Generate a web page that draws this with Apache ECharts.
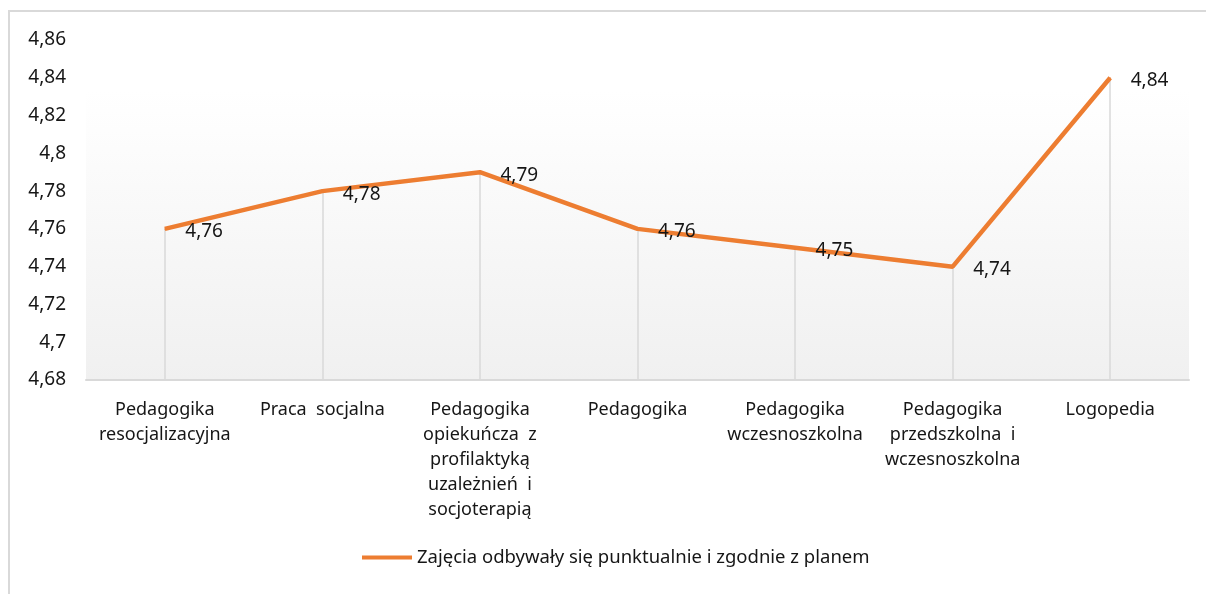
<!DOCTYPE html>
<html>
<head>
<meta charset="utf-8">
<script src="https://cdn.jsdelivr.net/npm/echarts@6/dist/echarts.min.js"></script>
<style>
html, body {
  margin: 0;
  padding: 0;
  background: #fff;
}
#frame {
  position: absolute;
  left: 8px;
  top: 10px;
  width: 1198px;
  height: 584px;
  border-left: 2px solid #d9d9d9;
  border-top: 2px solid #d9d9d9;
}
#chart {
  position: absolute;
  left: 0;
  top: 0;
  width: 1206px;
  height: 594px;
}
</style>
</head>
<body>
<div id="frame"></div>
<div id="chart"></div>
<script>
const categories = [
  'Pedagogika\nresocjalizacyjna',
  'Praca  socjalna',
  'Pedagogika\nopiekuńcza  z\nprofilaktyką\nuzależnień  i\nsocjoterapią',
  'Pedagogika',
  'Pedagogika\nwczesnoszkolna',
  'Pedagogika\nprzedszkolna  i\nwczesnoszkolna',
  'Logopedia'
]
const seriesName = 'Zajęcia odbywały się punktualnie i zgodnie z planem'
const values = [4.76, 4.78, 4.79, 4.76, 4.75, 4.74, 4.84]
const yMin = 4.68
const yMax = 4.86
const yStep = 0.02

const fmt = v => String(+v.toFixed(2)).replace('.', ',')
const font = '"Noto Sans", sans-serif'
const textColor = '#161616'

const chart = echarts.init(document.getElementById('chart'))

// drop lines from each point down to the axis
const dropLines = values.map((v, i) => [
  { coord: [i, v] },
  { coord: [i, yMin] }
])

const option = {
  animation: false,
  textStyle: { fontFamily: font },
  grid: {
    left: 86,
    right: 17,
    top: 40,
    bottom: 214,
    show: true,
    borderWidth: 0,
    backgroundColor: new echarts.graphic.LinearGradient(0, 0, 0, 1, [
      { offset: 0, color: '#ffffff' },
      { offset: 0.15, color: '#ffffff' },
      { offset: 1, color: '#f0f0f0' }
    ])
  },
  legend: {
    bottom: 22,
    left: 357,
    itemWidth: 50,
    itemHeight: 4,
    icon: 'rect',
    textStyle: { fontSize: 18.5, color: textColor, fontFamily: font },
    data: [seriesName]
  },
  xAxis: {
    type: 'category',
    data: categories,
    boundaryGap: true,
    axisLine: { lineStyle: { color: '#d9d9d9', width: 2 } },
    axisTick: { show: false },
    axisLabel: {
      interval: 0,
      margin: 17,
      fontSize: 18,
      lineHeight: 25,
      color: textColor,
      align: 'center',
      verticalAlign: 'top'
    }
  },
  yAxis: {
    type: 'value',
    min: yMin,
    max: yMax,
    interval: yStep,
    axisLine: { show: false },
    axisTick: { show: false },
    splitLine: { show: false },
    axisLabel: {
      margin: 20,
      fontSize: 19,
      color: textColor,
      formatter: v => fmt(v)
    }
  },
  series: [
    {
      name: seriesName,
      type: 'line',
      data: values,
      symbol: 'circle',
      symbolSize: 1,
      showSymbol: true,
      z: 3,
      lineStyle: { color: '#ed7d31', width: 4.5 },
      itemStyle: { color: '#ed7d31' },
      label: {
        show: true,
        position: 'right',
        distance: 20,
        offset: [0, 3],
        fontSize: 19,
        color: textColor,
        formatter: p => fmt(p.value)
      },
      markLine: {
        silent: true,
        symbol: 'none',
        z: 1,
        label: { show: false },
        lineStyle: { color: '#d9d9d9', width: 1.5, type: 'solid' },
        data: dropLines
      }
    }
  ]
}
chart.setOption(option)
</script>
</body>
</html>
